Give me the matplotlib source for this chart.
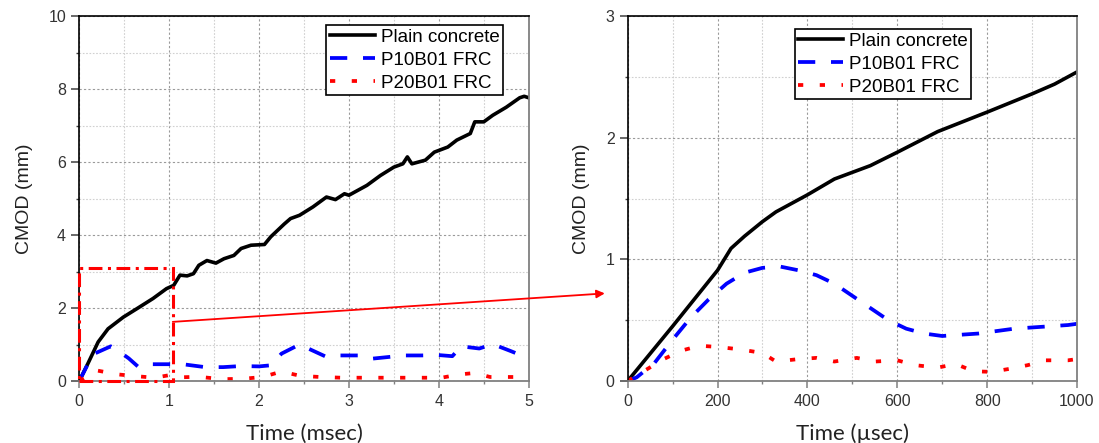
import matplotlib
matplotlib.use("Agg")
import matplotlib.pyplot as plt
from matplotlib.patches import Rectangle, ConnectionPatch
from matplotlib.ticker import MultipleLocator

# ---------------- data ----------------
series_names = ["Plain concrete", "P10B01 FRC", "P20B01 FRC"]

# Full record, time in msec, CMOD in mm
plain_t_ms = [0, 0.1, 0.21, 0.32, 0.49, 0.64, 0.82, 0.97, 1.05, 1.12, 1.2, 1.27,
              1.33, 1.42, 1.52, 1.61, 1.72, 1.8, 1.91, 2.06, 2.13, 2.28, 2.35,
              2.45, 2.6, 2.75, 2.85, 2.95, 3.0, 3.2, 3.35, 3.5, 3.6, 3.65, 3.7,
              3.85, 3.95, 4.1, 4.2, 4.35, 4.4, 4.5, 4.6, 4.75, 4.9, 4.95, 5.0]
plain_cmod_ms = [0, 0.5, 1.07, 1.43, 1.75, 1.98, 2.26, 2.53, 2.62, 2.9, 2.88,
                 2.94, 3.17, 3.3, 3.23, 3.35, 3.44, 3.63, 3.72, 3.74, 3.95, 4.3,
                 4.45, 4.54, 4.77, 5.04, 4.97, 5.13, 5.09, 5.36, 5.63, 5.86, 5.95,
                 6.14, 5.95, 6.05, 6.27, 6.41, 6.6, 6.78, 7.1, 7.1, 7.28, 7.5,
                 7.76, 7.8, 7.76]

p10_t_ms = [0, 0.15, 0.35, 0.42, 0.55, 0.66, 0.8, 1.0, 1.15, 1.4, 1.6, 1.8,
            2.0, 2.13, 2.25, 2.45, 2.75, 2.9, 3.1, 3.25, 3.45, 3.6, 3.8, 4.0,
            4.15, 4.25, 4.45, 4.6, 4.8, 5.0]
p10_cmod_ms = [0, 0.73, 0.95, 0.85, 0.62, 0.38, 0.46, 0.46, 0.46, 0.38, 0.38,
               0.41, 0.4, 0.43, 0.75, 1.0, 0.66, 0.7, 0.7, 0.61, 0.66, 0.7, 0.7,
               0.71, 0.68, 0.95, 0.89, 1.01, 0.82, 0.62]

p20_t_ms = [0, 0.19, 0.3, 0.43, 0.64, 0.84, 0.99, 1.1, 1.25, 1.39, 1.59, 1.82,
            2.04, 2.25, 2.46, 2.68, 2.92, 3.13, 3.36, 3.58, 3.8, 4.03, 4.23,
            4.4, 4.57, 4.78, 5.0]
p20_cmod_ms = [0, 0.29, 0.24, 0.18, 0.13, 0.09, 0.155, 0.1, 0.11, 0.1, 0.05,
               0.06, 0.11, 0.26, 0.14, 0.11, 0.09, 0.09, 0.09, 0.09, 0.09, 0.09,
               0.18, 0.22, 0.11, 0.11, 0.11]

# First millisecond, time in usec
plain_t_us = [0, 100, 200, 230, 260, 300, 330, 400, 460, 540, 600, 690, 800,
              900, 950, 1000]
plain_cmod_us = [0, 0.45, 0.91, 1.09, 1.19, 1.31, 1.39, 1.53, 1.66, 1.77, 1.88,
                 2.05, 2.21, 2.36, 2.44, 2.54]

p10_t_us = [0, 20, 60, 100, 140, 180, 220, 260, 300, 340, 380, 420, 460, 500,
            540, 580, 620, 660, 700, 740, 780, 820, 860, 900, 940, 980, 1000]
p10_cmod_us = [0, 0.03, 0.15, 0.34, 0.52, 0.67, 0.80, 0.89, 0.93, 0.94, 0.91,
               0.87, 0.80, 0.70, 0.60, 0.50, 0.43, 0.39, 0.37, 0.38, 0.39, 0.41,
               0.43, 0.44, 0.45, 0.46, 0.47]

p20_t_us = [0, 40, 80, 120, 160, 200, 250, 300, 330, 380, 420, 460, 510, 550,
            600, 640, 690, 730, 770, 810, 850, 890, 930, 980, 1000]
p20_cmod_us = [0, 0.09, 0.18, 0.25, 0.29, 0.28, 0.26, 0.23, 0.16, 0.18, 0.19,
               0.16, 0.19, 0.16, 0.17, 0.13, 0.11, 0.14, 0.08, 0.075, 0.10,
               0.13, 0.17, 0.17, 0.18]

# ---------------- styling ----------------
plt.rcParams["font.family"] = ["Liberation Sans", "DejaVu Sans"]

TICK_COL = "#333333"
styles = [
    dict(color="black", lw=2.6, ls="-"),
    dict(color="#0000ff", lw=2.7, ls=(0, (4.6, 4.2))),
    dict(color="#ff0000", lw=2.7, ls=(0, (1.4, 4.4))),
]

fig = plt.figure(figsize=(10.99, 4.43), dpi=100)
ax1 = fig.add_axes([79.3 / 1099, 62 / 443, 449.4 / 1099, 365 / 443])
ax2 = fig.add_axes([627.7 / 1099, 62 / 443, 449.3 / 1099, 365 / 443])


def style_axes(ax, xmaj, xmin, ymaj, ymin, xlabel):
    ax.xaxis.set_major_locator(MultipleLocator(xmaj))
    ax.xaxis.set_minor_locator(MultipleLocator(xmin))
    ax.yaxis.set_major_locator(MultipleLocator(ymaj))
    ax.yaxis.set_minor_locator(MultipleLocator(ymin))
    ax.grid(which="major", color="#9a9a9a", ls=(0, (2, 2)), lw=0.8)
    ax.grid(which="minor", color="#d0d0d0", ls=(0, (1.5, 1.5)), lw=0.8)
    ax.set_axisbelow(True)
    for side in ("left", "top"):
        ax.spines[side].set_color("black")
        ax.spines[side].set_linewidth(1.2)
    for side in ("bottom", "right"):
        ax.spines[side].set_color("#808080")
        ax.spines[side].set_linewidth(1.3)
    ax.tick_params(axis="x", which="major", direction="out", length=5,
                   width=1.1, color="#808080", labelsize=11.5,
                   labelcolor=TICK_COL, pad=4)
    ax.tick_params(axis="x", which="minor", direction="out", length=2.5,
                   width=1.0, color="#808080")
    ax.tick_params(axis="y", which="major", direction="out", length=5.5,
                   width=1.1, color="#404040", labelsize=11.5,
                   labelcolor=TICK_COL, pad=4)
    ax.tick_params(axis="y", which="minor", direction="out", length=2.5,
                   width=1.0, color="#404040")
    ax.set_xlabel(xlabel, family=["Lato", "DejaVu Sans"], fontsize=16,
                  color="#222222", labelpad=11)
    ax.set_ylabel("CMOD (mm)", fontsize=14, color="#222222", labelpad=11)


# ---- left panel: whole record ----
for (t, c), name, st in zip([(plain_t_ms, plain_cmod_ms), (p10_t_ms, p10_cmod_ms),
                             (p20_t_ms, p20_cmod_ms)], series_names, styles):
    ax1.plot(t, c, label=name, **st)
ax1.set_xlim(0, 5)
ax1.set_ylim(0, 10)
style_axes(ax1, 1, 0.5, 2, 1, "Time (msec)")

# ---- right panel: first millisecond ----
for (t, c), name, st in zip([(plain_t_us, plain_cmod_us), (p10_t_us, p10_cmod_us),
                             (p20_t_us, p20_cmod_us)], series_names, styles):
    ax2.plot(t, c, label=name, **st)
ax2.set_xlim(0, 1000)
ax2.set_ylim(0, 3)
style_axes(ax2, 200, 100, 1, 0.5, "Time (\u00b5sec)")

legend_kw = dict(loc="upper right", fontsize=13.5, frameon=True, fancybox=False,
                 edgecolor="black", borderpad=0.2, labelspacing=0.3,
                 handlelength=2.4, handletextpad=0.3, borderaxespad=0)
for ax, anchor in ((ax1, (0.943, 0.975)), (ax2, (0.765, 0.964))):
    leg = ax.legend(bbox_to_anchor=anchor, **legend_kw)
    leg.get_frame().set_linewidth(1.2)
    leg.get_frame().set_alpha(1)
    for txt in leg.get_texts():
        txt.set_color("black")

# zoom window on the left panel and the arrow pointing to the detail view
zoom_w, zoom_h = 1.04, 3.1
ax1.add_patch(Rectangle((0, 0), zoom_w, zoom_h, fill=False, ec="#ff0000",
                        lw=2.2, ls=(0, (4.5, 1.8, 1, 1.8)), clip_on=False,
                        zorder=5))
arrow = ConnectionPatch(xyA=(zoom_w, 1.62), coordsA=ax1.transData,
                        xyB=(-51, 0.72), coordsB=ax2.transData,
                        arrowstyle="-|>", mutation_scale=12, color="#ff0000",
                        lw=1.3, zorder=6)
fig.add_artist(arrow)

fig.savefig("out.png", dpi=100)
